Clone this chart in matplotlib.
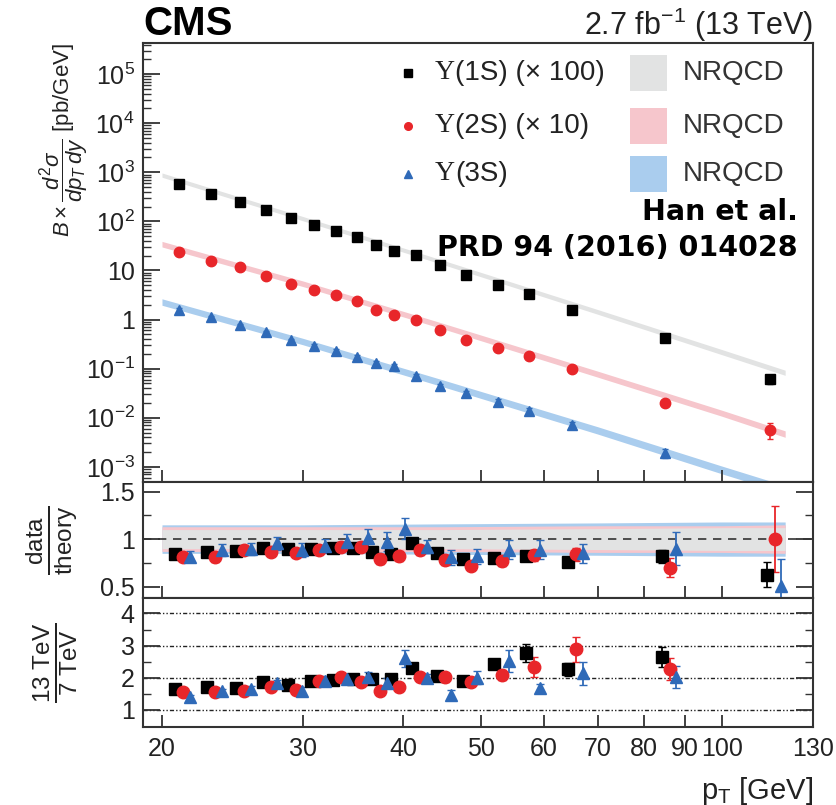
import numpy as np
import matplotlib
matplotlib.use('Agg')
import matplotlib.pyplot as plt
from matplotlib.ticker import FixedLocator, FixedFormatter, NullFormatter, LogLocator

plt.rcParams['font.family'] = ['Liberation Sans', 'DejaVu Sans']
plt.rcParams['mathtext.fontset'] = 'custom'
plt.rcParams['mathtext.rm'] = 'Liberation Sans'
plt.rcParams['mathtext.it'] = 'Liberation Sans:italic'
plt.rcParams['mathtext.bf'] = 'Liberation Sans:bold'

# pT bin centres [GeV]
pt = np.array([21, 23, 25, 27, 29, 31, 33, 35, 37, 39, 41.5, 44.5, 48, 52.5, 57.5, 65, 85, 115])

# cross sections as plotted (1S x100, 2S x10)
xs_1s = np.array([569, 366, 248, 173, 119, 84.4, 63.7, 47.4, 33.0, 25.3, 20.4, 12.9, 7.98, 5.07, 3.32, 1.57, 0.417, 0.0627])
xs_2s = np.array([23.5, 15.6, 11.6, 7.84, 5.38, 4.06, 3.17, 2.39, 1.56, 1.26, 0.97, 0.615, 0.385, 0.264, 0.184, 0.0989, 0.0204, 0.00566])
xs_3s = np.array([1.57, 1.11, 0.778, 0.560, 0.379, 0.290, 0.230, 0.176, 0.132, 0.114, 0.0711, 0.0446, 0.0316, 0.0213, 0.0140, 0.00716, 0.0019, np.nan])

# data / theory
rt_1s = np.array([0.843, 0.867, 0.874, 0.902, 0.895, 0.892, 0.909, 0.909, 0.867, 0.84, 0.955, 0.85, 0.79, 0.797, 0.82, 0.755, 0.82, 0.625])
rt_2s = np.array([0.81, 0.814, 0.885, 0.867, 0.85, 0.885, 0.92, 0.92, 0.79, 0.82, 0.885, 0.78, 0.72, 0.77, 0.83, 0.84, 0.70, 1.0])
rt_3s = np.array([0.815, 0.885, 0.895, 0.955, 0.885, 0.927, 0.972, 1.007, 0.972, 1.11, 0.92, 0.81, 0.82, 0.89, 0.89, 0.85, 0.90, 0.51])
rt_err_1s = np.array([0.04, 0.04, 0.035, 0.035, 0.035, 0.035, 0.035, 0.035, 0.04, 0.04, 0.04, 0.04, 0.04, 0.04, 0.04, 0.045, 0.07, 0.13])
rt_err_2s = np.array([0.045, 0.05, 0.04, 0.04, 0.04, 0.045, 0.05, 0.05, 0.05, 0.05, 0.05, 0.05, 0.05, 0.05, 0.06, 0.07, 0.1, 0.35])
rt_err_3s = np.array([0.06, 0.06, 0.06, 0.065, 0.07, 0.07, 0.08, 0.1, 0.1, 0.11, 0.07, 0.08, 0.08, 0.1, 0.1, 0.1, 0.17, 0.28])

# 13 TeV / 7 TeV
re_1s = np.array([1.65, 1.70, 1.67, 1.88, 1.77, 1.91, 1.93, 1.96, 1.96, 1.96, 2.31, 2.05, 1.91, 2.42, 2.76, 2.27, 2.65, np.nan])
re_2s = np.array([1.55, 1.55, 1.60, 1.72, 1.62, 1.90, 2.03, 1.88, 1.59, 1.72, 2.03, 2.01, 1.88, 2.08, 2.34, 2.88, 2.27, np.nan])
re_3s = np.array([1.41, 1.59, 1.65, 1.83, 1.60, 1.90, 1.95, 2.03, 1.83, 2.60, 1.98, 1.46, 2.00, 2.52, 1.67, 2.14, 2.03, np.nan])
re_err_1s = np.array([0.06, 0.06, 0.06, 0.06, 0.06, 0.07, 0.07, 0.07, 0.08, 0.08, 0.1, 0.1, 0.1, 0.15, 0.28, 0.2, 0.3, np.nan])
re_err_2s = np.array([0.06, 0.06, 0.06, 0.07, 0.07, 0.08, 0.12, 0.1, 0.1, 0.12, 0.12, 0.15, 0.15, 0.15, 0.3, 0.4, 0.35, np.nan])
re_err_3s = np.array([0.06, 0.07, 0.08, 0.1, 0.1, 0.15, 0.15, 0.15, 0.15, 0.25, 0.15, 0.15, 0.2, 0.35, 0.15, 0.35, 0.35, np.nan])

# NRQCD (Han et al.) bands
th_pt = np.array([20, 30, 45, 70, 100, 120])
th_1s = np.array([880, 114, 14.4, 1.44, 0.219, 0.083])
th_2s = np.array([34.6, 5.4, 0.73, 0.078, 0.0125, 0.0047])
th_3s = np.array([2.3, 0.36, 0.05, 0.0056, 0.00088, 0.00035])
th_err_1s = np.array([0.10, 0.10, 0.10, 0.11, 0.12, 0.12])
th_err_2s = np.array([0.13, 0.13, 0.13, 0.14, 0.14, 0.15])
th_err_3s = np.array([0.15, 0.15, 0.16, 0.17, 0.18, 0.18])

xticks = [20, 30, 40, 50, 60, 70, 80, 90, 100, 130]
xticklabels = ['20', '30', '40', '50', '60', '70', '80', '90', '100', '130']
yticks_top = [1e-3, 1e-2, 1e-1, 1, 10, 1e2, 1e3, 1e4, 1e5]
yticklabels_top = ['$10^{-3}$', '$10^{-2}$', '$10^{-1}$', '1', '10', '$10^{2}$', '$10^{3}$', '$10^{4}$', '$10^{5}$']

c1, c2, c3 = 'black', '#e8262a', '#2f6ab8'
f1, f2, f3 = '#e2e3e3', '#f6c6cc', '#aacdee'
tcol = '#222222'
series = [
    (xs_1s, rt_1s, rt_err_1s, re_1s, re_err_1s, c1, 's', 0.99),
    (xs_2s, rt_2s, rt_err_2s, re_2s, re_err_2s, c2, 'o', 1.013),
    (xs_3s, rt_3s, rt_err_3s, re_3s, re_err_3s, c3, '^', 1.032),
]
bands = [(th_1s, th_err_1s, f1), (th_2s, th_err_2s, f2), (th_3s, th_err_3s, f3)]

fig = plt.figure(figsize=(8.36, 8.05), dpi=100)
L, W = 0.1711, 0.8014
ax = fig.add_axes([L, 0.4012, W, 0.5454])
ax2 = fig.add_axes([L, 0.2571, W, 0.1441], sharex=ax)
ax3 = fig.add_axes([L, 0.0969, W, 0.1602], sharex=ax)

# top panel
for th, te, fc in bands:
    ax.fill_between(th_pt, th * (1 - te), th * (1 + te), color=fc, lw=0, zorder=1)
for xs, rt, rte, re, ree, c, m, dx in series:
    ax.errorbar(pt, xs, yerr=xs * rte / rt, fmt=m, color=c, ms=7.5, elinewidth=1.2, capsize=2.5, zorder=3)
ax.set_xscale('log')
ax.set_yscale('log')
ax.set_xlim(18.94, 130)
ax.set_ylim(4.9e-4, 4.3e5)
ax.yaxis.set_major_locator(FixedLocator(yticks_top))
ax.yaxis.set_major_formatter(FixedFormatter(yticklabels_top))
ax.yaxis.set_minor_locator(LogLocator(base=10, subs=np.arange(2, 10), numticks=20))
ax.yaxis.set_minor_formatter(NullFormatter())
ax.set_ylabel(r'$B \times \dfrac{d^{2}\sigma}{dp_{T}\,dy}$ [pb/GeV]', fontsize=16, loc='top', color=tcol)
ax.yaxis.set_label_coords(-0.077, 1.0)

# legend drawn by hand
leg_y = [0.9317, 0.811, 0.7016]
leg_txt = ['(1S) (× 100)', '(2S) (× 10)', '(3S)']
for (xs, rt, rte, re, ree, c, m, dx), y, t, (th, te, fc) in zip(series, leg_y, leg_txt, bands):
    ax.plot([0.3955], [y], m, color=c, ms=5.5, transform=ax.transAxes)
    t1 = ax.text(0.4358, y, 'Υ', fontsize=20, family='Liberation Serif', va='center', color=tcol,
                 transform=ax.transAxes)
    ax.annotate(t, xy=(1, 0.5), xycoords=t1, va='center', ha='left', fontsize=20, color=tcol)
    ax.add_patch(plt.Rectangle((0.7269, y - 0.04), 0.0552, 0.08, color=fc, transform=ax.transAxes, lw=0))
    ax.text(0.806, y, 'NRQCD', fontsize=20, va='center', color='#333333', transform=ax.transAxes)
ax.text(0.9776, 0.615, 'Han et al.', fontsize=20.5, fontweight='bold', family='DejaVu Sans',
        ha='right', va='center', transform=ax.transAxes)
ax.text(0.9776, 0.533, 'PRD 94 (2016) 014028', fontsize=20.5, fontweight='bold', family='DejaVu Sans',
        ha='right', va='center', transform=ax.transAxes)
ax.text(0.0, 1.018, 'CMS', fontsize=29, fontweight='bold', ha='left', va='baseline', transform=ax.transAxes)
ax.text(1.0, 1.018, r'2.7 fb$^{-1}$ (13 TeV)', fontsize=22, ha='right', va='baseline', color=tcol,
        transform=ax.transAxes)

# data / theory panel
for th, te, fc in [bands[2], bands[1], bands[0]]:
    ax2.fill_between(th_pt, 1 - te, 1 + te, color=fc, lw=0, zorder=1)
ax2.axhline(1, color='#333333', ls=(0, (5, 4)), lw=1.2, zorder=2)
for xs, rt, rte, re, ree, c, m, dx in series:
    ax2.errorbar(pt * dx, rt, yerr=rte, fmt=m, color=c, ms=9, elinewidth=1.3, capsize=3, zorder=3)
ax2.set_ylim(0.38, 1.6)
ax2.yaxis.set_major_locator(FixedLocator([0.5, 1, 1.5]))
ax2.yaxis.set_major_formatter(FixedFormatter(['0.5', '1', '1.5']))
ax2.yaxis.set_minor_locator(FixedLocator([0.75, 1.25]))
ax2.set_ylabel(r'$\frac{\mathrm{data}}{\mathrm{theory}}$', fontsize=25, color=tcol)
ax2.yaxis.set_label_coords(-0.094, 0.5)

# 13 TeV / 7 TeV panel
for lv in [1, 2, 3, 4]:
    ax3.axhline(lv, color='#222222', lw=1.0, ls=(0, (3, 1.5, 1, 1.5, 1, 1.5)), zorder=1)
for xs, rt, rte, re, ree, c, m, dx in series:
    ax3.errorbar(pt * dx, re, yerr=ree, fmt=m, color=c, ms=9, elinewidth=1.3, capsize=3, zorder=3)
ax3.set_ylim(0.47, 4.48)
ax3.yaxis.set_major_locator(FixedLocator([1, 2, 3, 4]))
ax3.yaxis.set_major_formatter(FixedFormatter(['1', '2', '3', '4']))
ax3.yaxis.set_minor_locator(FixedLocator([1.5, 2.5, 3.5]))
ax3.set_ylabel(r'$\frac{\mathrm{13\ TeV}}{\mathrm{7\ TeV}}$', fontsize=25, color=tcol)
ax3.yaxis.set_label_coords(-0.094, 0.5)
ax3.set_xlabel(r'p$_{\mathrm{T}}$ [GeV]', fontsize=21, loc='right', color=tcol, labelpad=10)

# shared axis styling
ax3.xaxis.set_major_locator(FixedLocator(xticks))
ax3.xaxis.set_major_formatter(FixedFormatter(xticklabels))
ax3.xaxis.set_minor_locator(FixedLocator([100]))
ax3.xaxis.set_minor_formatter(NullFormatter())
for a in (ax, ax2, ax3):
    for s in a.spines.values():
        s.set_color('#333333')
        s.set_linewidth(1.5)
    a.tick_params(axis='x', which='major', direction='in', length=9, width=1.3, color='#333333',
                  labelsize=18, labelcolor=tcol, pad=7)
    a.tick_params(axis='x', which='minor', direction='in', length=18, width=1.3, color='#333333')
    a.tick_params(axis='y', which='major', direction='in', length=12, width=1.3, color='#333333',
                  labelsize=18, labelcolor=tcol, pad=6)
    a.tick_params(axis='y', which='minor', direction='in', length=6, width=1.0, color='#333333')
ax.tick_params(axis='x', labelbottom=False)
ax2.tick_params(axis='x', labelbottom=False)
for a in (ax2, ax3):
    a.tick_params(axis='y', which='both', right=True)

fig.savefig('out.png', dpi=100)
